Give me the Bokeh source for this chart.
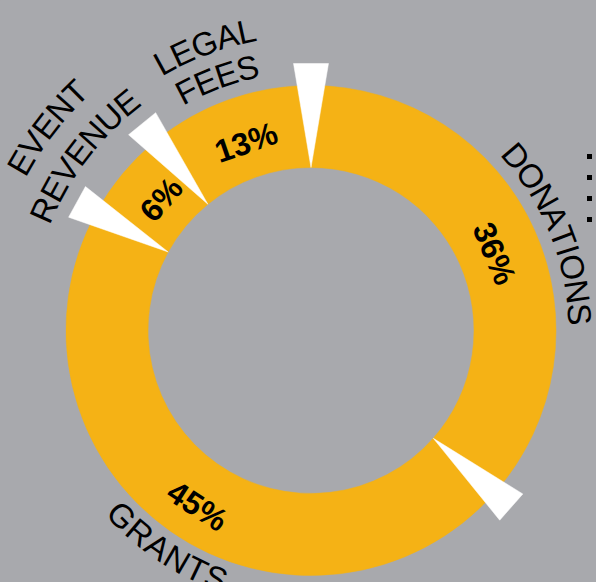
import math
from bokeh.plotting import figure
from bokeh.models import Range1d, ColumnDataSource, GlobalInlineStyleSheet
from bokeh.core.properties import value
from bokeh.embed import file_html
from bokeh.resources import INLINE

# ---------------- data ----------------
categories = ["DONATIONS", "GRANTS", "EVENT REVENUE", "LEGAL FEES"]
label_lines = [["DONATIONS"], ["GRANTS"], ["EVENT", "REVENUE"], ["LEGAL", "FEES"]]
shares = [36.5, 46.5, 6.1, 10.9]          # share of the ring (as drawn)
pct_labels = ["36%", "45%", "6%", "13%"]   # printed labels

# ---------------- layout / style ----------------
W, H = 596, 582
CX, CY = 310.5, 252.0
R_IN, R_OUT = 163.0, 245.0
SEP_R, SEP_HALF = 267.0, 17.5
LINE_R = [[269], [265], [335, 293], [306, 270]]
LABEL_NUDGE = [2.3, -1.6, -2.2, -0.8]     # degrees
PCT_NUDGE = [1.5, -2.2, 1.4, 0.6]         # degrees
BG = "#a8a9ad"
GOLD = "#f5b215"
FONT = "Liberation Sans"
CAT_SIZE = 33
PCT_SIZE = 32

CHAR_W = {"A": 667, "B": 667, "C": 722, "D": 722, "E": 667, "F": 611, "G": 778,
          "H": 722, "I": 278, "J": 500, "K": 667, "L": 556, "M": 833, "N": 722,
          "O": 778, "P": 667, "Q": 778, "R": 722, "S": 667, "T": 611, "U": 722,
          "V": 667, "W": 944, "X": 667, "Y": 667, "Z": 611, " ": 278}

total = sum(shares)
starts, ends = [], []
acc = 0.0
for s in shares:
    starts.append(acc / total * 360.0)
    acc += s
    ends.append(acc / total * 360.0)
mids = [(a + b) / 2 for a, b in zip(starts, ends)]


def polar(r, theta_deg):
    t = math.radians(theta_deg)
    return CX + r * math.sin(t), CY + r * math.cos(t)


p = figure(width=W, height=H, x_range=Range1d(0, W), y_range=Range1d(0, H),
           output_backend="svg", toolbar_location=None,
           x_axis_type=None, y_axis_type=None, min_border=0,
           background_fill_color=BG, border_fill_color=BG,
           outline_line_color=None)
p.grid.visible = False
p.stylesheets = [GlobalInlineStyleSheet(
    css="html, body { margin: 0; padding: 0; overflow: hidden; background-color: %s; }" % BG)]

# ring
ring = ColumnDataSource(dict(
    cat=categories,
    start=[math.radians(90 - a) for a in starts],
    end=[math.radians(90 - b) for b in ends],
))
p.annular_wedge(x=CX, y=CY, inner_radius=R_IN, outer_radius=R_OUT,
                start_angle="start", end_angle="end", direction="clock",
                fill_color=GOLD, line_color=GOLD, line_width=0.5, source=ring)

# white separators
xs, ys = [], []
for th in starts:
    tx, ty = polar(R_IN, th)
    bx, by = polar(SEP_R, th)
    t = math.radians(th)
    px, py = math.cos(t), -math.sin(t)
    xs.append([tx, bx + SEP_HALF * px, bx - SEP_HALF * px])
    ys.append([ty, by + SEP_HALF * py, by - SEP_HALF * py])
p.patches(xs, ys, fill_color="white", line_color="white", line_width=0.5)

# percent labels
px_, py_, pa_ = [], [], []
for th0, nd in zip(mids, PCT_NUDGE):
    th = th0 + nd
    flip = 90 < th < 270
    r = 209 if flip else 199
    x, y = polar(r, th)
    px_.append(x)
    py_.append(y)
    pa_.append(-math.radians(th) + (math.pi if flip else 0))
p.text(x=px_, y=py_, text=pct_labels, angle=pa_,
       text_font=value(FONT), text_font_style="bold",
       text_font_size="%dpx" % PCT_SIZE, text_align="center",
       text_baseline="middle", text_color="black")

# curved category labels
cx_, cy_, ct_, ca_ = [], [], [], []
for lines, radii, th0, nd in zip(label_lines, LINE_R, mids, LABEL_NUDGE):
    th_c = th0 + nd
    flip = 90 < th_c < 270
    for line, r in zip(lines, radii):
        widths = [CHAR_W.get(ch, 600) * CAT_SIZE / 1000.0 for ch in line]
        tot = sum(widths)
        s = 0.0
        for ch, w in zip(line, widths):
            d = (s + w / 2 - tot / 2) / r
            t = math.radians(th_c) + (-d if flip else d)
            cx_.append(CX + r * math.sin(t))
            cy_.append(CY + r * math.cos(t))
            ct_.append(ch)
            ca_.append(-t + (math.pi if flip else 0))
            s += w
p.text(x=cx_, y=cy_, text=ct_, angle=ca_,
       text_font=value(FONT), text_font_size="%dpx" % CAT_SIZE,
       text_align="center", text_baseline="middle", text_color="black")

# dotted leader at right edge
p.line(x=[589, 589], y=[428.5, 359.5], line_color="black",
       line_width=5, line_dash="5 16")

open("out.html", "w").write(file_html(p, INLINE))
